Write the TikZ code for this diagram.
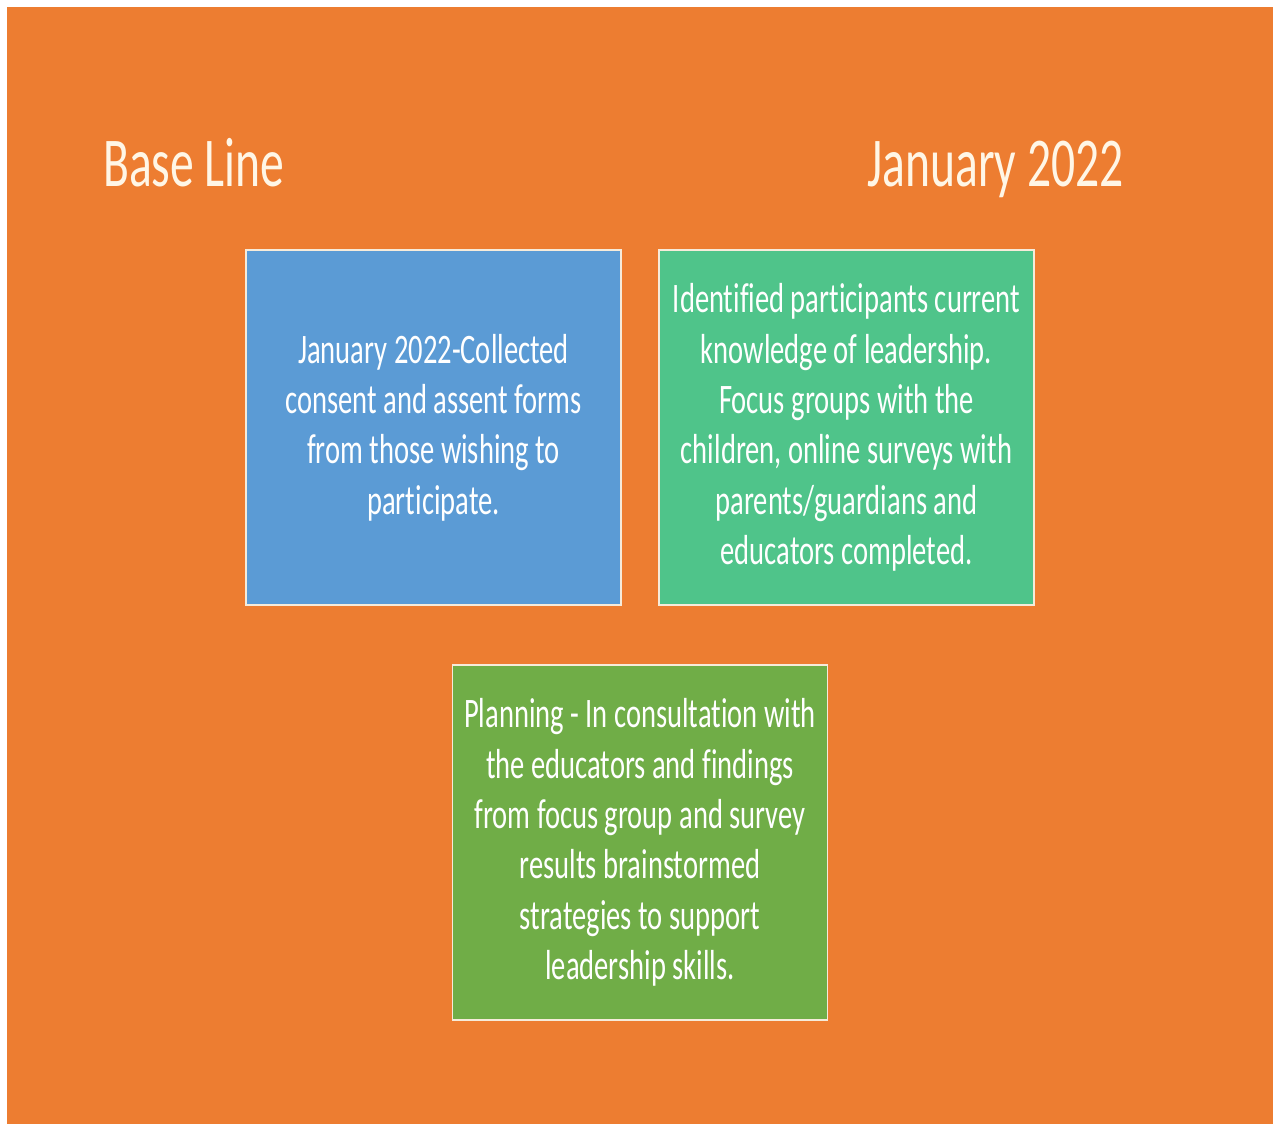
\documentclass[tikz,border=0pt]{standalone}
\usepackage{fontspec}
\setmainfont{Carlito}[FakeStretch=0.68, Ligatures=CommonOff]
\begin{document}
\definecolor{slideorange}{HTML}{ED7D31}
\definecolor{cardblue}{HTML}{5B9BD5}
\definecolor{cardteal}{HTML}{4FC48A}
\definecolor{cardgreen}{HTML}{70AD47}
\definecolor{cream}{HTML}{FFF6E6}
\definecolor{edgecream}{HTML}{F6EBDA}
\begin{tikzpicture}[x=1pt,y=-1pt,
  heading/.style={inner sep=0pt, text=cream, font=\fontsize{70}{84}\selectfont},
  card/.style={draw=edgecream, line width=1.5pt, minimum width=375pt, minimum height=355pt,
    inner sep=0pt, align=center, text=white, font=\fontsize{42}{50.3}\selectfont}]
  % page and slide background
  \fill[white] (0,0) rectangle (1274,1126);
  \fill[slideorange] (7,7) rectangle (1273,1124);
  \useasboundingbox (0,0) rectangle (1274,1126);

  % headings
  \node[heading, anchor=base west] (title) at (103,187) {Base Line};
  \node[heading, anchor=base east] (date) at (1124,187) {January 2022};

  % cards
  \node[card, fill=cardblue] (consent) at (433.5,427.5)
    {January 2022-Collected\\consent and assent forms\\from those wishing to\\participate.};
  \node[card, fill=cardteal] (baseline) at (846.5,427.5)
    {Identified participants current\\knowledge of leadership.\\Focus groups with the\\children, online surveys with\\parents/guardians and\\educators completed.};
  \node[card, fill=cardgreen] (planning) at (640,842.5)
    {Planning - In consultation with\\the educators and findings\\from focus group and survey\\results brainstormed\\strategies to support\\leadership skills.};
\end{tikzpicture}
\end{document}
